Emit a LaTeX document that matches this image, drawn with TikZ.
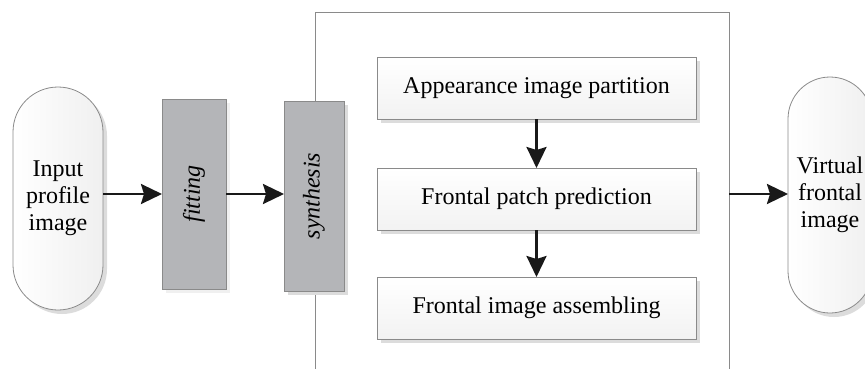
\documentclass[tikz,border=0pt]{standalone}
\usepackage{fontspec}
\setmainfont{Liberation Serif}
\usetikzlibrary{arrows.meta,shadows}
\definecolor{edgegray}{HTML}{8A8A8A}
\definecolor{blockgray}{HTML}{B4B5B8}
\definecolor{shadowgray}{HTML}{DCDCDC}
\definecolor{faintshadow}{HTML}{F0F0F0}
\begin{document}
\begin{tikzpicture}[x=1pt,y=-1pt,
  every node/.style={font=\fontsize{24}{27}\selectfont, inner sep=0pt, outer sep=0pt},
  shadowed/.style={drop shadow={shadow xshift=4pt, shadow yshift=-4pt, fill=shadowgray, opacity=1}},
  stadium/.style={shadowed, draw=edgegray, line width=0.8pt, left color=white, right color=gray!12, align=center},
  block/.style={draw=edgegray, line width=0.8pt, fill=blockgray, minimum height=190pt},
  stepbox/.style={shadowed, draw=edgegray, line width=0.8pt, top color=white, bottom color=gray!10, minimum width=319pt, minimum height=62pt},
  frameline/.style={draw=edgegray, line width=0.8pt},
  arr/.style={line width=2.6pt, draw=black!90, -{Stealth[length=21pt,width=20pt,inset=3pt]}},
]
\useasboundingbox (0,0) rectangle (865,369);
\coordinate (row) at (0,194);
\coordinate (frameR) at (729,194);

% frame (open at the bottom)
\draw[frameline] (315,369) -- (315,12) -- (729,12) -- (729,369);

% left stadium
\node[stadium, rounded corners=45pt, minimum width=90pt, minimum height=223pt] (input) at (58,198.5) {Input\\profile\\image};

% grey blocks
\node[block, minimum width=64pt, drop shadow={shadow xshift=4pt, shadow yshift=-4pt, fill=faintshadow, opacity=1}] (fitting) at (194,194) {\rotatebox{90}{\itshape fitting}};
\node[block, minimum width=60pt, shadowed] (synthesis) at (314,196) {\rotatebox{90}{\itshape synthesis}};

% step boxes
\node[stepbox] (box1) at (536.5,88) {Appearance image partition};
\node[stepbox] (box2) at (536.5,199) {Frontal patch prediction};
\node[stepbox] (box3) at (536.5,308) {Frontal image assembling};

% right stadium
\node[stadium, rounded corners=42pt, minimum width=84pt, minimum height=236pt] (virtual) at (830,195) {Virtual\\frontal\\image};

% connectors
\draw[arr] (input.east |- row) -- (fitting.west |- row);
\draw[arr] (fitting.east |- row) -- (synthesis.west |- row);
\draw[arr] (box1) -- (box2);
\draw[arr] (box2) -- (box3);
\draw[arr] (frameR) -- (virtual.west |- row);
\end{tikzpicture}
\end{document}
